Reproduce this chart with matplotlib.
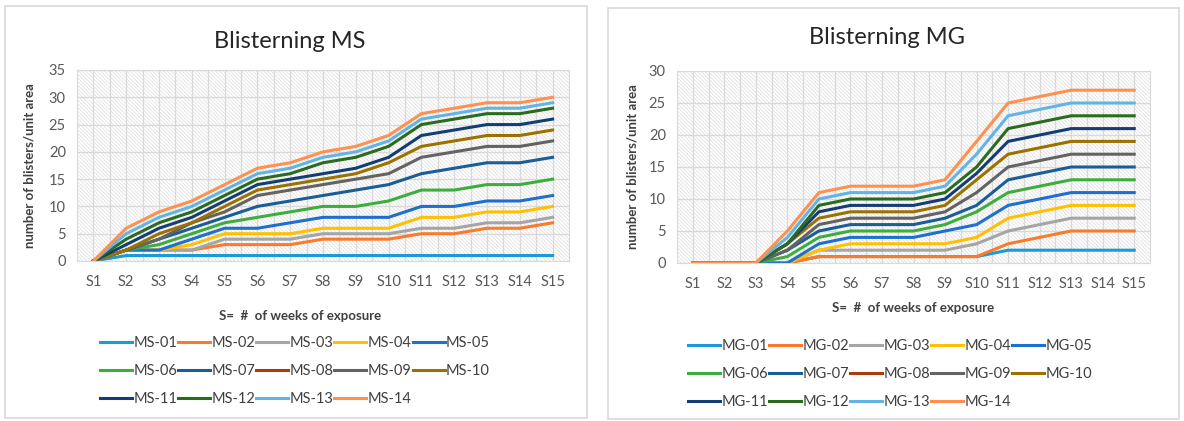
import numpy as np
import matplotlib
matplotlib.use("Agg")
import matplotlib.pyplot as plt
from matplotlib.patches import Rectangle

plt.rcParams['font.family'] = ['Lato', 'DejaVu Sans']
plt.rcParams['hatch.linewidth'] = 0.5

# data
weeks = ['S1', 'S2', 'S3', 'S4', 'S5', 'S6', 'S7', 'S8', 'S9', 'S10', 'S11', 'S12', 'S13', 'S14', 'S15']

ms_names = ['MS-01', 'MS-02', 'MS-03', 'MS-04', 'MS-05', 'MS-06', 'MS-07',
            'MS-08', 'MS-09', 'MS-10', 'MS-11', 'MS-12', 'MS-13', 'MS-14']
ms_01 = [0, 1, 1, 1, 1, 1, 1, 1, 1, 1, 1, 1, 1, 1, 1]
ms_02 = [0, 2, 2, 2, 3, 3, 3, 4, 4, 4, 5, 5, 6, 6, 7]
ms_03 = [0, 2, 2, 2, 4, 4, 4, 5, 5, 5, 6, 6, 7, 7, 8]
ms_04 = [0, 2, 2, 3, 5, 5, 5, 6, 6, 6, 8, 8, 9, 9, 10]
ms_05 = [0, 2, 2, 4, 6, 6, 7, 8, 8, 8, 10, 10, 11, 11, 12]
ms_06 = [0, 2, 3, 5, 7, 8, 9, 10, 10, 11, 13, 13, 14, 14, 15]
ms_07 = [0, 2, 4, 6, 8, 10, 11, 12, 13, 14, 16, 17, 18, 18, 19]
ms_08 = []  # no visible line
ms_09 = [0, 2, 4, 7, 9, 12, 13, 14, 15, 16, 19, 20, 21, 21, 22]
ms_10 = [0, 2, 5, 7, 10, 13, 14, 15, 16, 18, 21, 22, 23, 23, 24]
ms_11 = [0, 3, 6, 8, 11, 14, 15, 16, 17, 19, 23, 24, 25, 25, 26]
ms_12 = [0, 4, 7, 9, 12, 15, 16, 18, 19, 21, 25, 26, 27, 27, 28]
ms_13 = [0, 5, 8, 10, 13, 16, 17, 19, 20, 22, 26, 27, 28, 28, 29]
ms_14 = [0, 6, 9, 11, 14, 17, 18, 20, 21, 23, 27, 28, 29, 29, 30]
ms_values = [ms_01, ms_02, ms_03, ms_04, ms_05, ms_06, ms_07,
             ms_08, ms_09, ms_10, ms_11, ms_12, ms_13, ms_14]

mg_names = ['MG-01', 'MG-02', 'MG-03', 'MG-04', 'MG-05', 'MG-06', 'MG-07',
            'MG-08', 'MG-09', 'MG-10', 'MG-11', 'MG-12', 'MG-13', 'MG-14']
mg_01 = [0, 0, 0, 0, 1, 1, 1, 1, 1, 1, 2, 2, 2, 2, 2]
mg_02 = [0, 0, 0, 0, 1, 1, 1, 1, 1, 1, 3, 4, 5, 5, 5]
mg_03 = [0, 0, 0, 0, 2, 2, 2, 2, 2, 3, 5, 6, 7, 7, 7]
mg_04 = [0, 0, 0, 0, 2, 3, 3, 3, 3, 4, 7, 8, 9, 9, 9]
mg_05 = [0, 0, 0, 0, 3, 4, 4, 4, 5, 6, 9, 10, 11, 11, 11]
mg_06 = [0, 0, 0, 1, 4, 5, 5, 5, 6, 8, 11, 12, 13, 13, 13]
mg_07 = [0, 0, 0, 2, 5, 6, 6, 6, 7, 9, 13, 14, 15, 15, 15]
mg_08 = []  # no visible line
mg_09 = [0, 0, 0, 2, 6, 7, 7, 7, 8, 11, 15, 16, 17, 17, 17]
mg_10 = [0, 0, 0, 3, 7, 8, 8, 8, 9, 13, 17, 18, 19, 19, 19]
mg_11 = [0, 0, 0, 3, 8, 9, 9, 9, 10, 14, 19, 20, 21, 21, 21]
mg_12 = [0, 0, 0, 3, 9, 10, 10, 10, 11, 15, 21, 22, 23, 23, 23]
mg_13 = [0, 0, 0, 4, 10, 11, 11, 11, 12, 17, 23, 24, 25, 25, 25]
mg_14 = [0, 0, 0, 5, 11, 12, 12, 12, 13, 19, 25, 26, 27, 27, 27]
mg_values = [mg_01, mg_02, mg_03, mg_04, mg_05, mg_06, mg_07,
             mg_08, mg_09, mg_10, mg_11, mg_12, mg_13, mg_14]

colors = ['#1B9AD6', '#F97B2B', '#A5A5A5', '#FFC000', '#1E6FD0', '#3DAE3D', '#1B5E96',
          '#A83C0C', '#636363', '#9C7100', '#153D75', '#2B6B20', '#63B4E6', '#FF9050']

W, H = 1184, 421
fig = plt.figure(figsize=(W / 100, H / 100), dpi=100)

# chart frames
for x0, y0, x1, y1 in [(5, 6, 587, 418), (608, 8, 1179, 419)]:
    fig.patches.append(Rectangle((x0 / W, 1 - y1 / H), (x1 - x0) / W, (y1 - y0) / H,
                                 transform=fig.transFigure, fill=False,
                                 edgecolor='#D9D9D9', linewidth=1.2))


def draw(rect, names, values, title, title_xy, ymax, xlab_xy, ylab_x, leg_xy):
    ax = fig.add_axes(rect)
    x = np.arange(len(weeks))
    bg = Rectangle((0, 0), 1, 1, transform=ax.transAxes, facecolor='white',
                   edgecolor='#DCDCDC', hatch='\\' * 9, linewidth=0, zorder=0.1)
    ax.add_patch(bg)
    handles = []
    for name, vals, c in zip(names, values, colors):
        h, = ax.plot(x[:len(vals)], vals, color=c, lw=2.2, label=name,
                     solid_joinstyle='round', zorder=2)
        handles.append(h)
    ax.set_xlim(-0.5, len(weeks) - 0.5)
    ax.set_ylim(0, ymax)
    ax.set_xticks(x)
    ax.set_xticklabels(weeks)
    ax.set_xticks(x[:-1] + 0.5, minor=True)
    ax.set_yticks(np.arange(0, ymax + 1, 5))
    ax.set_axisbelow(True)
    ax.grid(True, which='both', axis='x', color='#D9D9D9', lw=0.9)
    ax.grid(True, which='major', axis='y', color='#D9D9D9', lw=0.9)
    ax.tick_params(which='both', length=0, labelsize=10.5, colors='#595959')
    ax.tick_params(axis='x', pad=10)
    ax.tick_params(axis='y', pad=8)
    for s in ax.spines.values():
        s.set_color('#D9D9D9')
    ax.set_ylabel('number of blisters/unit area', fontsize=9.5, fontweight='bold', color='#404040')
    ax.yaxis.set_label_coords(ylab_x, 0.5)
    ax.set_xlabel('S=  #  of weeks of exposure', fontsize=9.5, fontweight='bold', color='#404040')
    ax.xaxis.set_label_coords(*xlab_xy)
    fig.text(title_xy[0], title_xy[1], title, fontsize=17, ha='center', va='center', color='#262626')

    # row-major legend order for 5 columns
    order = [0, 5, 10, 1, 6, 11, 2, 7, 12, 3, 8, 13, 4, 9]
    fig.legend([handles[i] for i in order], [names[i] for i in order], ncol=5,
               loc='center', bbox_to_anchor=leg_xy, frameon=False, fontsize=10.5,
               handlelength=2.2, handletextpad=0.1, columnspacing=0.05,
               labelspacing=0.95, labelcolor='#404040')
    return ax


draw([77 / W, 1 - 261 / H, 492 / W, 191 / H], ms_names, ms_values, 'Blisterning MS',
     (290 / W, 1 - 42 / H), 35, (0.453, -0.255), -0.085, (295 / W, 1 - 371 / H))
draw([677 / W, 1 - 263 / H, 473 / W, 192 / H], mg_names, mg_values, 'Blisterning MG',
     (887 / W, 1 - 37 / H), 30, (0.499, -0.205), -0.082, (890 / W, 1 - 374 / H))

fig.savefig('out.png', dpi=100)
